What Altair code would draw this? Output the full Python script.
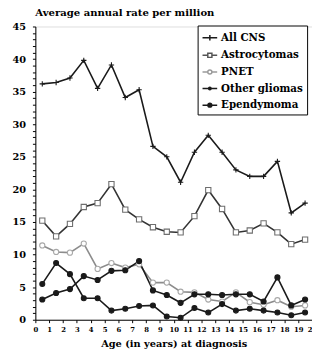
import altair as alt
import pandas as pd

ages = [0.5, 1.5, 2.5, 3.5, 4.5, 5.5, 6.5, 7.5, 8.5, 9.5,
        10.5, 11.5, 12.5, 13.5, 14.5, 15.5, 16.5, 17.5, 18.5, 19.5]

series = ["All CNS", "Astrocytomas", "PNET", "Other gliomas", "Ependymoma"]

all_cns = [36.2, 36.4, 37.1, 39.8, 35.5, 39.1, 34.1, 35.3, 26.6, 25.0,
           21.1, 25.7, 28.3, 25.7, 23.0, 22.0, 22.0, 24.3, 16.4, 17.9]
astro = [15.2, 12.8, 14.7, 17.3, 17.9, 20.8, 16.9, 15.4, 14.2, 13.5,
         13.4, 15.9, 19.9, 17.0, 13.4, 13.7, 14.8, 13.4, 11.6, 12.3]
pnet = [11.4, 10.4, 10.3, 11.7, 7.8, 8.7, 8.0, 8.5, 5.7, 5.7,
        4.3, 4.2, 3.1, 2.8, 4.2, 2.7, 2.3, 3.0, 2.0, 2.2]
other_gliomas = [3.1, 4.1, 4.7, 6.7, 6.1, 7.5, 7.6, 9.0, 4.5, 3.8,
                 2.6, 3.9, 3.9, 3.8, 3.9, 3.9, 2.8, 6.5, 2.2, 3.1]
ependymoma = [5.5, 8.7, 7.0, 3.3, 3.3, 1.4, 1.7, 2.1, 2.2, 0.5,
              0.3, 1.8, 1.1, 2.4, 1.4, 1.7, 1.4, 1.1, 0.7, 1.1]

values = [all_cns, astro, pnet, other_gliomas, ependymoma]

rows = []
for name, vals in zip(series, values):
    for a, v in zip(ages, vals):
        rows.append({"series": name, "age": a, "rate": v})
df = pd.DataFrame(rows)

x_ticks = list(range(0, 21))
y_ticks = list(range(0, 46))

line_colors = ["#1a1a1a", "#333333", "#8c8c8c", "#1a1a1a", "#1a1a1a"]
point_strokes = ["#1a1a1a", "#6e6e6e", "#a8a8a8", "#1a1a1a", "#1a1a1a"]
point_fills = ["#1a1a1a", "#ffffff", "#ffffff", "#1a1a1a", "#1a1a1a"]
point_shapes = ["M-1,0L1,0M0,-1L0,1", "square", "circle", "circle", "circle"]
point_sizes = [30, 26, 30, 10, 22]

legend_shapes = [
    "M-1,0L1,0M0,-0.38L0,0.38",
    "M-1,0L-0.28,0M0.28,0L1,0M-0.28,-0.28L0.28,-0.28L0.28,0.28L-0.28,0.28Z",
    "M-1,0L-0.28,0M0.28,0L1,0M-0.28,0A0.28,0.28 0 1,0 0.28,0A0.28,0.28 0 1,0 -0.28,0Z",
    "M-1,0L1,0M-0.17,0A0.17,0.17 0 1,0 0.17,0A0.17,0.17 0 1,0 -0.17,0Z",
    "M-1,0L1,0M-0.26,0A0.26,0.26 0 1,0 0.26,0A0.26,0.26 0 1,0 -0.26,0Z",
]
legend_strokes = ["#1a1a1a", "#555555", "#9a9a9a", "#1a1a1a", "#1a1a1a"]

FONT = "DejaVu Serif"

x_axis = alt.Axis(
    values=x_ticks,
    title="Age (in years) at diagnosis",
    labelFontSize=7, labelFontWeight="bold", labelFont=FONT,
    labelFlush=False, labelOverlap=False, labelPadding=3, tickSize=3,
    titleFont=FONT, titleFontSize=10, titleFontWeight="bold",
    titlePadding=6, grid=False,
    domainColor="#000", tickColor="#000", labelColor="#000", titleColor="#000",
)
y_axis = alt.Axis(
    values=y_ticks,
    labelExpr="datum.value % 5 === 0 ? datum.label : ''",
    title=None,
    labelFontSize=10, labelFontWeight="bold", labelFont=FONT,
    labelFlush=False, labelOverlap=False, labelPadding=7, tickSize=3, grid=False,
    domainColor="#000", tickColor="#000", labelColor="#000",
)
x_scale = alt.Scale(domain=[0, 20], nice=False)
y_scale = alt.Scale(domain=[0, 45], nice=False)

lines = alt.Chart(df).mark_line(strokeWidth=1.6).encode(
    x=alt.X("age:Q", scale=x_scale, axis=x_axis),
    y=alt.Y("rate:Q", scale=y_scale, axis=y_axis),
    detail="series:N",
    stroke=alt.Stroke("series:N", scale=alt.Scale(domain=series, range=line_colors), legend=None),
)

points = alt.Chart(df).mark_point(filled=True, strokeWidth=1.1, opacity=1).encode(
    x=alt.X("age:Q", scale=x_scale, axis=x_axis),
    y=alt.Y("rate:Q", scale=y_scale, axis=y_axis),
    shape=alt.Shape("series:N", scale=alt.Scale(domain=series, range=point_shapes), legend=None),
    fill=alt.Fill("series:N", scale=alt.Scale(domain=series, range=point_fills), legend=None),
    stroke=alt.Stroke("series:N", scale=alt.Scale(domain=series, range=point_strokes), legend=None),
    size=alt.Size("series:N", scale=alt.Scale(domain=series, range=point_sizes), legend=None),
)

leg = alt.Legend(
    title=None, orient="none", legendX=166, legendY=-1,
    strokeColor="#000", fillColor="#ffffff", padding=4,
    rowPadding=3, symbolSize=225, symbolStrokeWidth=1.5, symbolOpacity=1,
    labelFont=FONT, labelFontSize=10.5, labelFontWeight="bold", labelColor="#000",
    labelOffset=3, symbolOffset=0,
    labelExpr="datum.label + '\u00a0\u00a0'",
)

legend_layer = alt.Chart(df).mark_point(filled=True, opacity=0).encode(
    x=alt.X("age:Q", scale=x_scale, axis=x_axis),
    y=alt.Y("rate:Q", scale=y_scale, axis=y_axis),
    shape=alt.Shape("series:N", scale=alt.Scale(domain=series, range=legend_shapes), legend=leg),
    fill=alt.Fill("series:N", scale=alt.Scale(domain=series, range=point_fills), legend=leg),
    stroke=alt.Stroke("series:N", scale=alt.Scale(domain=series, range=legend_strokes), legend=leg),
)

chart = alt.layer(lines, points, legend_layer).resolve_scale(
    shape="independent", fill="independent", stroke="independent", size="independent"
).properties(
    width=283,
    height=300,
    autosize=alt.AutoSizeParams(type="none"),
    padding={"left": 28, "top": 15, "right": 0, "bottom": 26},
    title=alt.TitleParams(
        "Average annual rate per million", anchor="start", frame="group",
        font=FONT, fontSize=10.3, fontWeight="bold", color="#000", offset=3,
    ),
).configure_view(stroke="#000", strokeWidth=1).configure_axis(
    labelOverlap=False
).configure(background="#ffffff")

chart.save("out.html", embed_options={"renderer": "svg", "actions": False})
